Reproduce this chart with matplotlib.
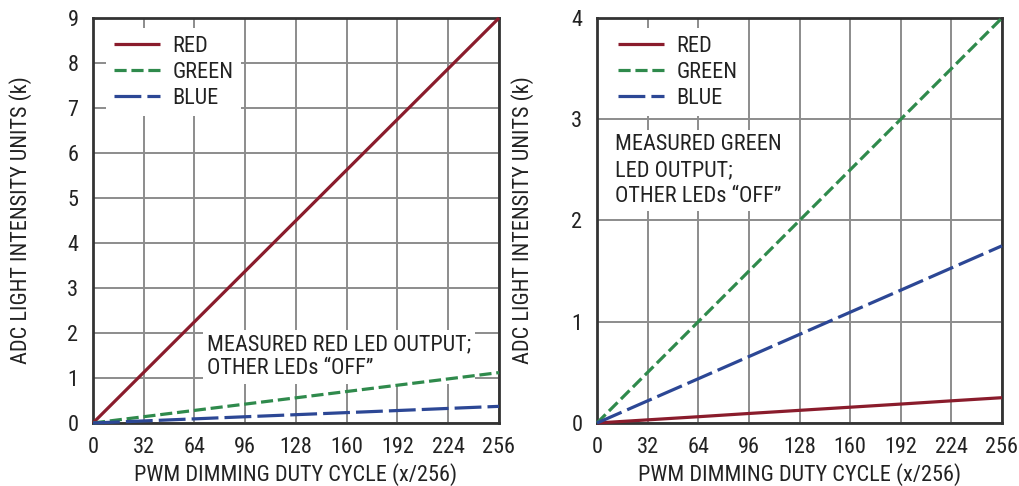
import matplotlib
matplotlib.use("Agg")
import matplotlib.pyplot as plt
from matplotlib.lines import Line2D

plt.rcParams['font.family'] = ['Roboto Condensed', 'DejaVu Sans']

x_duty = [0, 32, 64, 96, 128, 160, 192, 224, 256]
x_ticks = [0, 32, 64, 96, 128, 160, 192, 224, 256]

# Left panel: measured RED LED output
left_red = [0, 1.125, 2.25, 3.375, 4.5, 5.625, 6.75, 7.875, 9.0]
left_green = [0, 0.14, 0.28, 0.42, 0.56, 0.70, 0.84, 0.98, 1.12]
left_blue = [0, 0.046, 0.092, 0.139, 0.185, 0.231, 0.277, 0.324, 0.37]
left_yticks = [0, 1, 2, 3, 4, 5, 6, 7, 8, 9]

# Right panel: measured GREEN LED output
right_red = [0, 0.031, 0.062, 0.094, 0.125, 0.156, 0.187, 0.219, 0.25]
right_green = [0, 0.5, 1.0, 1.5, 2.0, 2.5, 3.0, 3.5, 4.0]
right_blue = [0, 0.219, 0.437, 0.656, 0.875, 1.094, 1.312, 1.531, 1.75]
right_yticks = [0, 1, 2, 3, 4]

series_names = ["RED", "GREEN", "BLUE"]
colors = {"RED": "#8a1c2c", "GREEN": "#2f8a4c", "BLUE": "#2c4795"}
styles = {"RED": (0, ()), "GREEN": (0, (3.8, 1.5)), "BLUE": (0, (8.4, 1.9))}

xlabel = "PWM DIMMING DUTY CYCLE (x/256)"
ylabel = "ADC LIGHT INTENSITY UNITS (k)"
left_note = "MEASURED RED LED OUTPUT;\nOTHER LEDs \u201cOFF\u201d"
right_note = "MEASURED GREEN\nLED OUTPUT;\nOTHER LEDs \u201cOFF\u201d"

fig = plt.figure(figsize=(10.2, 4.86), dpi=100)
ax1 = fig.add_axes([93/1020, 63/486, 406/1020, 405/486])
ax2 = fig.add_axes([597/1020, 63/486, 405/1020, 405/486])

panels = [
    (ax1, {"RED": left_red, "GREEN": left_green, "BLUE": left_blue}, left_yticks, left_note, (0.281, 0.219), 1.19, -0.15),
    (ax2, {"RED": right_red, "GREEN": right_green, "BLUE": right_blue}, right_yticks, right_note, (0.044, 0.713), 1.31, -0.156),
]

FS = 16
TC = "#222222"
LW = 2.3
for ax, data, yt, note, notepos, lsp, ylx in panels:
    for name in ["RED", "GREEN", "BLUE"]:
        ax.plot(x_duty, data[name], color=colors[name], linestyle=styles[name],
                linewidth=LW, solid_capstyle='butt', dash_capstyle='butt', zorder=3, clip_on=False)
    ax.set_xlim(0, 256)
    ax.set_ylim(yt[0], yt[-1])
    ax.set_xticks(x_ticks)
    ax.set_yticks(yt)
    ax.grid(True, color="#8c8c8c", linewidth=1.4, zorder=0)
    ax.set_axisbelow(True)
    for s in ax.spines.values():
        s.set_linewidth(2.0)
        s.set_color("#333333")
    ax.tick_params(axis='both', length=0, labelsize=FS, colors=TC)
    ax.tick_params(axis='x', pad=10)
    ax.tick_params(axis='y', pad=10.5)
    ax.set_xlabel(xlabel, fontsize=FS, color=TC, labelpad=3.5)
    ax.set_ylabel(ylabel, fontsize=FS, color=TC)
    ax.yaxis.set_label_coords(ylx, 0.5)
    handles = [Line2D([0], [0], color=colors[n], linestyle=styles[n], linewidth=LW) for n in series_names]
    leg = ax.legend(handles, series_names, loc='upper left', bbox_to_anchor=(0.032, 0.975),
                    frameon=True, facecolor='white', edgecolor='none', framealpha=1.0,
                    fontsize=FS, handlelength=2.1, handletextpad=0.54, labelspacing=0.22,
                    borderpad=0.35, borderaxespad=0.0, fancybox=False)
    leg.set_zorder(2)
    for t in leg.get_texts():
        t.set_color(TC)
    ax.text(notepos[0], notepos[1], note, transform=ax.transAxes, fontsize=FS,
            color=TC, va='top', ha='left', linespacing=lsp, zorder=2,
            bbox=dict(facecolor='white', edgecolor='none', pad=3))

fig.savefig("out.png", dpi=100)
